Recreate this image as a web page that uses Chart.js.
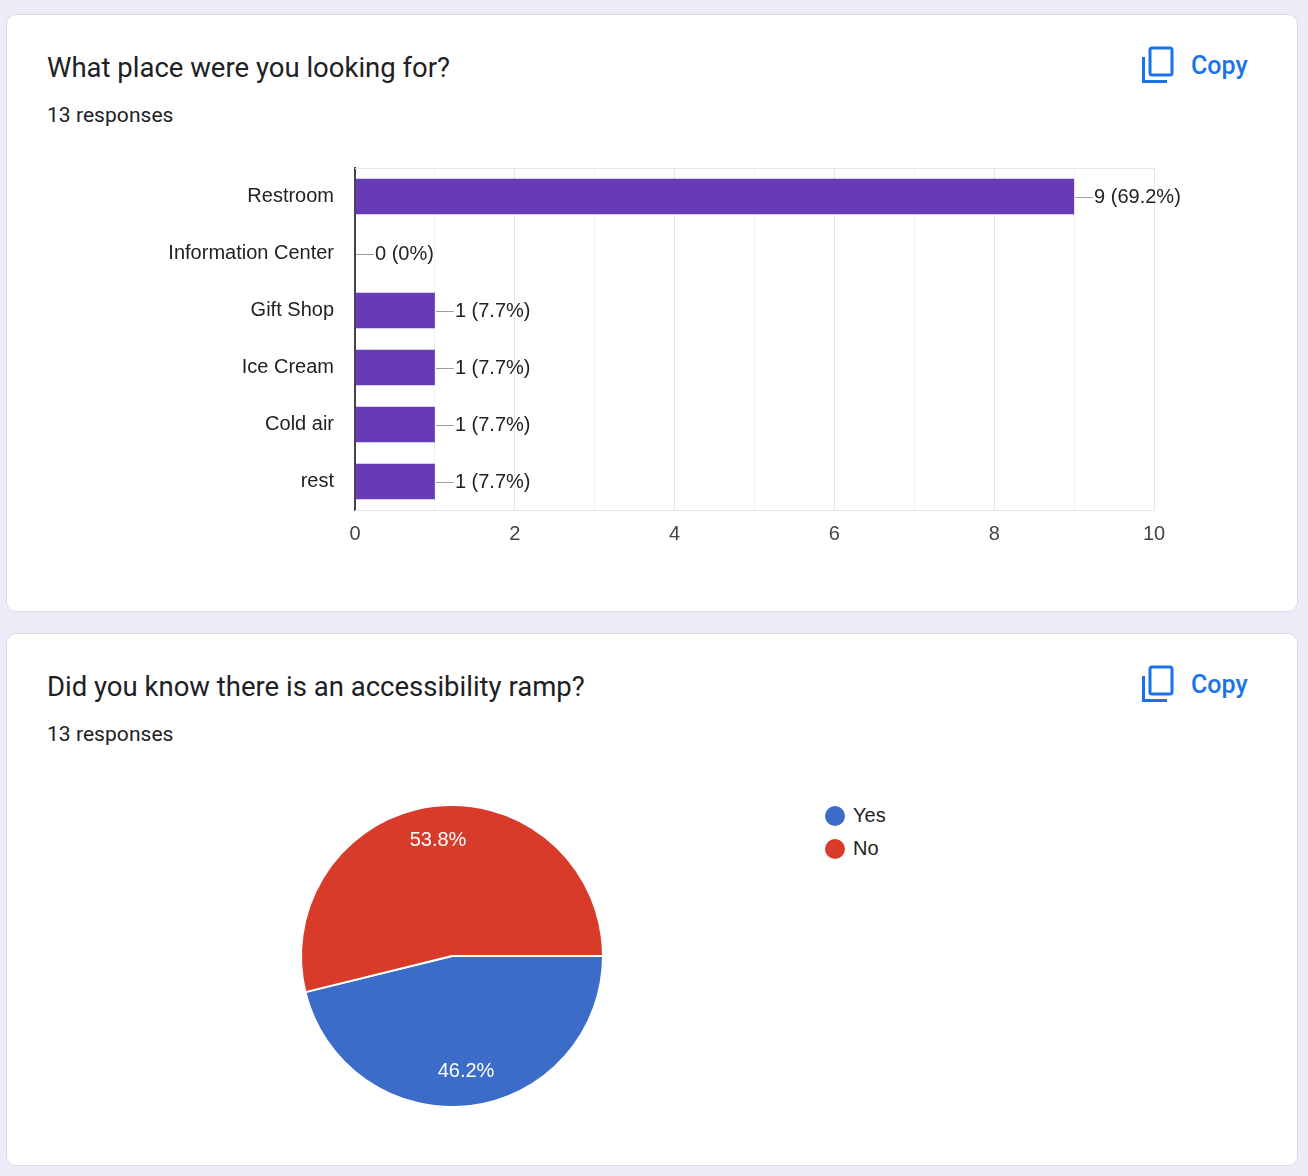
<!DOCTYPE html>
<html>
<head>
<meta charset="utf-8">
<script src="https://cdn.jsdelivr.net/npm/chart.js@4.4.1/dist/chart.umd.min.js"></script>
<style>
  html, body { margin: 0; padding: 0; }
  body {
    width: 1308px;
    height: 1176px;
    background: #f0ebf8;
    position: relative;
    overflow: hidden;
    font-family: Roboto, Arial, sans-serif;
  }
  .card {
    position: absolute;
    left: 6px;
    width: 1290px;
    background: #fff;
    border: 1px solid #dadce0;
    border-radius: 10px;
  }
  .title {
    position: absolute;
    left: 40px;
    top: 39px;
    font-size: 27.5px;
    line-height: 28px;
    color: #202124;
    white-space: nowrap;
  }
  .count {
    position: absolute;
    left: 40px;
    top: 90px;
    font-size: 21px;
    line-height: 21px;
    letter-spacing: 0.05px;
    color: #202124;
  }
  .copy {
    position: absolute;
    left: 1134px;
    top: 30px;
    height: 40px;
    display: flex;
    align-items: center;
    color: #1a73e8;
    font-size: 25px;
    font-weight: 500;
  }
  .copy svg { margin-right: 17px; }
  canvas { position: absolute; }
  .legend {
    position: absolute;
    left: 825px;
    top: 808px;
    font-family: 'Liberation Sans', Arial, sans-serif;
    font-size: 20px;
    color: #222;
  }
  .legend div { height: 33px; display: flex; align-items: center; margin-top: -9px; margin-bottom: 9px; }
  .legend span.dot { width: 20px; height: 20px; border-radius: 50%; margin-right: 8px; display: inline-block; }
</style>
</head>
<body>

<div class="card" style="top:14px;height:596px;">
  <div class="title">What place were you looking for?</div>
  <div class="count">13 responses</div>
  <div class="copy">
    <svg width="33" height="38" viewBox="0 0 33 38">
      <rect x="9" y="2" width="22" height="27" rx="2" fill="none" stroke="#1a73e8" stroke-width="3"/>
      <path d="M2.5 11 V35.5 H26" fill="none" stroke="#1a73e8" stroke-width="3"/>
    </svg>
    Copy
  </div>
</div>

<div class="card" style="top:633px;height:531px;">
  <div class="title">Did you know there is an accessibility ramp?</div>
  <div class="count">13 responses</div>
  <div class="copy">
    <svg width="33" height="38" viewBox="0 0 33 38">
      <rect x="9" y="2" width="22" height="27" rx="2" fill="none" stroke="#1a73e8" stroke-width="3"/>
      <path d="M2.5 11 V35.5 H26" fill="none" stroke="#1a73e8" stroke-width="3"/>
    </svg>
    Copy
  </div>
</div>

<canvas id="barChart" style="left:100px;top:150px;width:1160px;height:420px;" width="1160" height="420"></canvas>
<canvas id="pieChart" style="left:292px;top:796px;width:320px;height:320px;" width="320" height="320"></canvas>
<div class="legend" id="pieLegend"></div>

<script>
// bar chart data
const placeLabels = ['Restroom', 'Information Center', 'Gift Shop', 'Ice Cream', 'Cold air', 'rest'];
const placeCounts = [9, 0, 1, 1, 1, 1];
const barTicks = [0, 2, 4, 6, 8, 10];

// pie chart data
const rampLabels = ['Yes', 'No'];
const rampCounts = [6, 7];
const rampColors = ['#3a6cc8', '#d93b2b'];

Chart.defaults.font.family = "'Liberation Sans', Arial, sans-serif";
Chart.defaults.font.size = 20;
Chart.defaults.animation = false;

function pctText(v, total) {
  return Number((v / total * 100).toFixed(1)) + '%';
}

// value labels with the little leader line
const barValueLabels = {
  id: 'barValueLabels',
  afterDatasetsDraw(chart) {
    const ctx = chart.ctx;
    const total = placeCounts.reduce((a, b) => a + b, 0);
    const meta = chart.getDatasetMeta(0);
    ctx.save();
    ctx.font = "20px 'Liberation Sans', Arial, sans-serif";
    ctx.textBaseline = 'middle';
    ctx.textAlign = 'left';
    meta.data.forEach((bar, i) => {
      const v = placeCounts[i];
      ctx.strokeStyle = '#9e9e9e';
      ctx.lineWidth = 1;
      ctx.beginPath();
      ctx.moveTo(bar.x + 1, Math.round(bar.y) + 0.5);
      ctx.lineTo(bar.x + 19, Math.round(bar.y) + 0.5);
      ctx.stroke();
      ctx.fillStyle = '#222';
      ctx.fillText(v + ' (' + pctText(v, total) + ')', bar.x + 20, bar.y + 1);
    });
    ctx.restore();
  }
};

// top edge of the plot frame
const plotFrame = {
  id: 'plotFrame',
  beforeDatasetsDraw(chart) {
    const { ctx, chartArea } = chart;
    ctx.save();
    ctx.strokeStyle = '#e6e6e6';
    ctx.lineWidth = 1;
    ctx.beginPath();
    ctx.moveTo(chartArea.left, chartArea.top + 0.5);
    ctx.lineTo(chartArea.right, chartArea.top + 0.5);
    ctx.stroke();
    ctx.restore();
  }
};

new Chart(document.getElementById('barChart'), {
  type: 'bar',
  data: {
    labels: placeLabels,
    datasets: [{
      data: placeCounts,
      backgroundColor: '#673ab7',
      barPercentage: 0.62,
      categoryPercentage: 1
    }]
  },
  options: {
    indexAxis: 'y',
    responsive: false,
    layout: { padding: { top: 18, right: 106, left: 0, bottom: 0 } },
    plugins: { legend: { display: false }, tooltip: { enabled: false } },
    scales: {
      y: {
        afterFit(scale) {
          scale.width = 255;
          scale.paddingTop = 0;
          scale.paddingBottom = 0;
        },
        grid: { display: false },
        border: { color: '#444', width: 2 },
        ticks: { color: '#222', padding: 13, font: { size: 20 } }
      },
      x: {
        min: 0,
        max: 10,
        afterFit(scale) { scale.height = 60; },
        afterBuildTicks(scale) {
          scale.ticks = [];
          for (let v = 0; v <= 10; v++) scale.ticks.push({ value: v });
        },
        grid: {
          drawTicks: false,
          color: (c) => (c.tick && c.tick.value % 2 === 0) ? '#e6e6e6' : '#f3f3f3'
        },
        border: { color: '#e6e6e6', width: 1 },
        ticks: {
          autoSkip: false,
          color: '#444',
          padding: 12,
          font: { size: 20 },
          callback: (v) => barTicks.includes(v) ? v : ''
        }
      }
    }
  },
  plugins: [plotFrame, barValueLabels]
});

// percentages inside the slices
const slicePercents = {
  id: 'slicePercents',
  afterDatasetsDraw(chart) {
    const ctx = chart.ctx;
    const total = rampCounts.reduce((a, b) => a + b, 0);
    const meta = chart.getDatasetMeta(0);
    ctx.save();
    ctx.font = "20px 'Liberation Sans', Arial, sans-serif";
    ctx.fillStyle = '#fff';
    ctx.textAlign = 'center';
    ctx.textBaseline = 'middle';
    meta.data.forEach((arc, i) => {
      const mid = (arc.startAngle + arc.endAngle) / 2;
      const r = arc.outerRadius * 0.77;
      ctx.fillText(pctText(rampCounts[i], total), arc.x + Math.cos(mid) * r, arc.y + Math.sin(mid) * r);
    });
    ctx.restore();
  }
};

new Chart(document.getElementById('pieChart'), {
  type: 'pie',
  data: {
    labels: rampLabels,
    datasets: [{
      data: rampCounts,
      backgroundColor: rampColors,
      borderColor: '#fff',
      borderWidth: 2
    }]
  },
  options: {
    responsive: false,
    rotation: 90,
    layout: { padding: 8 },
    plugins: { legend: { display: false }, tooltip: { enabled: false } }
  },
  plugins: [slicePercents]
});

// legend as html
const legendBox = document.getElementById('pieLegend');
rampLabels.forEach((label, i) => {
  const row = document.createElement('div');
  const dot = document.createElement('span');
  dot.className = 'dot';
  dot.style.background = rampColors[i];
  row.appendChild(dot);
  row.appendChild(document.createTextNode(label));
  legendBox.appendChild(row);
});
</script>
</body>
</html>
